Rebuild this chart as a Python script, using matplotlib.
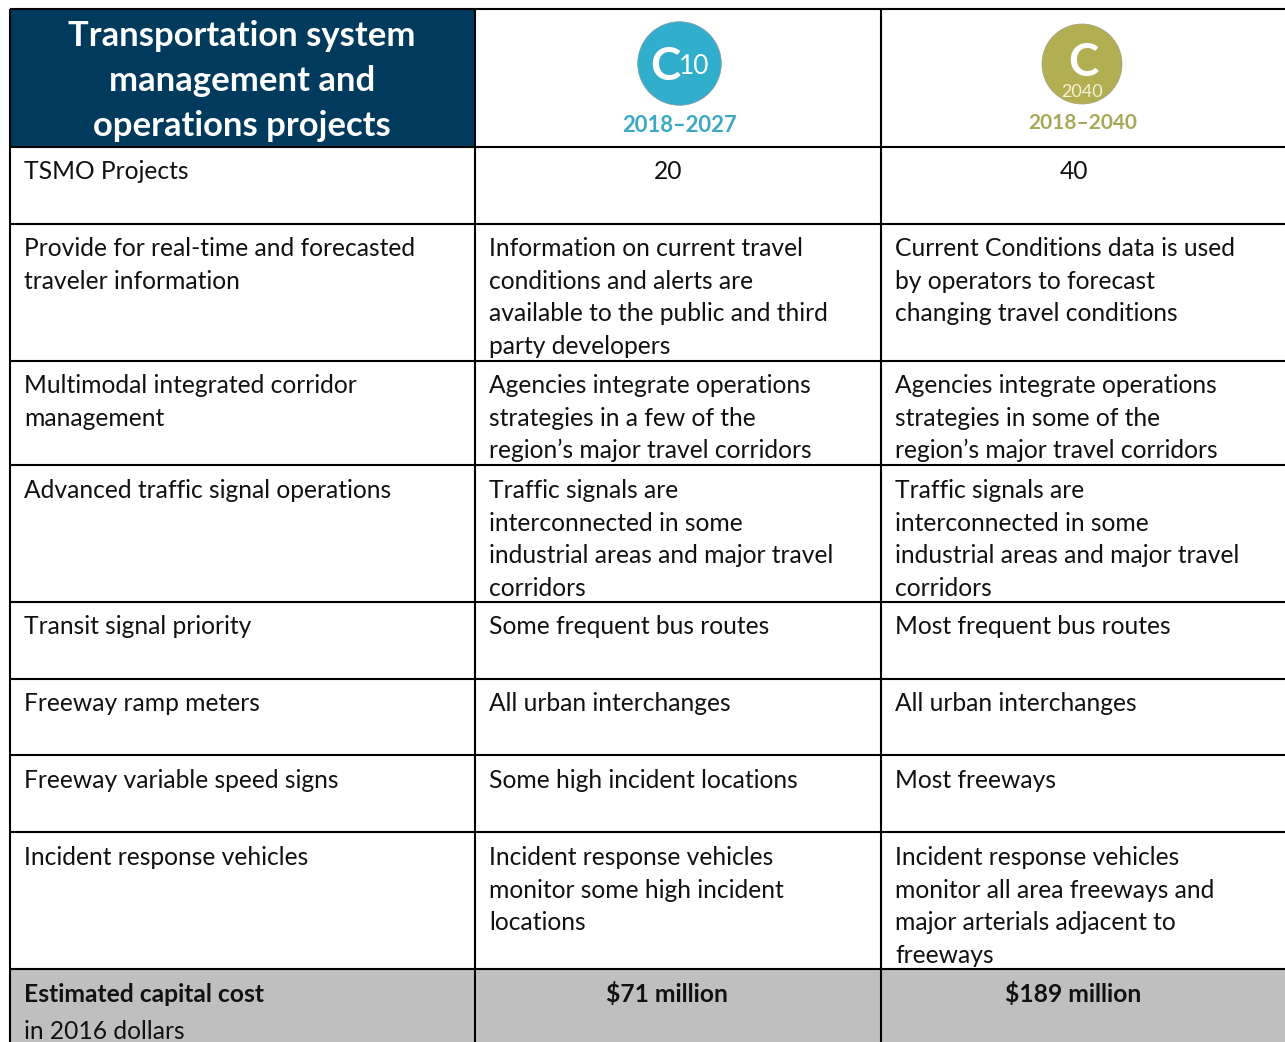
import matplotlib
matplotlib.use("Agg")
import matplotlib.pyplot as plt
from matplotlib.patches import Rectangle, Circle

FONT = "Lato"
header_title = ["Transportation system", "management and", "operations projects"]
period_labels = ["2018–2027", "2018–2040"]

row_labels = [
    ["TSMO Projects"],
    ["Provide for real-time and forecasted", "traveler information"],
    ["Multimodal integrated corridor", "management"],
    ["Advanced traffic signal operations"],
    ["Transit signal priority"],
    ["Freeway ramp meters"],
    ["Freeway variable speed signs"],
    ["Incident response vehicles"],
]
col_2027 = [
    ["20"],
    ["Information on current travel", "conditions and alerts are", "available to the public and third", "party developers"],
    ["Agencies integrate operations", "strategies in a few of the", "region’s major travel corridors"],
    ["Traffic signals are", "interconnected in some", "industrial areas and major travel", "corridors"],
    ["Some frequent bus routes"],
    ["All urban interchanges"],
    ["Some high incident locations"],
    ["Incident response vehicles", "monitor some high incident", "locations"],
]
col_2040 = [
    ["40"],
    ["Current Conditions data is used", "by operators to forecast", "changing travel conditions"],
    ["Agencies integrate operations", "strategies in some of the", "region’s major travel corridors"],
    ["Traffic signals are", "interconnected in some", "industrial areas and major travel", "corridors"],
    ["Most frequent bus routes"],
    ["All urban interchanges"],
    ["Most freeways"],
    ["Incident response vehicles", "monitor all area freeways and", "major arterials adjacent to", "freeways"],
]
cost_label = "Estimated capital cost"
cost_unit = "in 2016 dollars"
cost_values = ["$71 million", "$189 million"]

# layout (pixel grid of the page)
W, H = 1285, 1042
row_edges = [147, 224, 361, 465, 602, 679, 755, 832, 969]
first_baselines = [179, 256, 393, 498, 634, 711, 788, 865]
col_x = [10, 475, 881]
LS = 32.6
FS = 17.75

fig = plt.figure(figsize=(W / 100, H / 100), dpi=100, facecolor="white")
ax = fig.add_axes([0, 0, 1, 1])
ax.set_xlim(0, W)
ax.set_ylim(H, 0)
ax.axis("off")

ax.add_patch(Rectangle((10, 9), 465, 138, fc="#003A5D", ec="none"))
ax.add_patch(Rectangle((10, 969), W - 10, H - 969, fc="#BFBFBF", ec="none"))

for y in [9] + row_edges:
    ax.plot([10, W], [y, y], color="black", lw=1.5, solid_capstyle="butt")
for x in col_x:
    ax.plot([x, x], [9, H], color="black", lw=1.5, solid_capstyle="butt")

for y, s in zip([36, 81, 126], header_title):
    ax.text(242, y, s, color="white", fontsize=24.9, fontweight="bold", family=FONT,
            ha="center", va="center")

# badges
teal, olive = "#31AECB", "#B1AF52"
ax.add_patch(Circle((679.5, 63.5), 41.8, fc=teal, ec="#8a9aa0", lw=0.5))
ax.text(665, 67, "C", color="white", fontsize=33, fontweight="bold", family=FONT, ha="center", va="center")
ax.text(694, 66, "10", color="white", fontsize=19, family=FONT, ha="center", va="center")
ax.text(679, 126, period_labels[0], color="#3BA9C4", fontsize=15.8, fontweight="bold", family=FONT, ha="center", va="center")

ax.add_patch(Circle((1082, 64), 40, fc=olive, ec="#a0a080", lw=0.5))
ax.text(1083, 63, "C", color="white", fontsize=33, fontweight="bold", family=FONT, ha="center", va="center")
ax.text(1082, 92, "2040", color="#F4F2D8", fontsize=13, family=FONT, ha="center", va="center")
ax.text(1083, 123, period_labels[1], color="#A8A958", fontsize=15, fontweight="bold", family=FONT, ha="center", va="center")

def block(x, y0, lines, ha="left", **kw):
    for i, s in enumerate(lines):
        ax.text(x, y0 + i * LS, s, ha=ha, va="baseline", fontsize=FS, color="#111111", family=FONT, **kw)

for i, y0 in enumerate(first_baselines):
    block(24, y0, row_labels[i])
    if i == 0:
        block(668, y0, col_2027[i], ha="center")
        block(1074, y0, col_2040[i], ha="center")
    else:
        block(489, y0, col_2027[i])
        block(895, y0, col_2040[i])

block(24, 1002, [cost_label], fontweight="bold")
block(24, 1039, [cost_unit])
block(667, 1002, [cost_values[0]], ha="center", fontweight="bold")
block(1073, 1002, [cost_values[1]], ha="center", fontweight="bold")

fig.savefig("out.png", dpi=100)
